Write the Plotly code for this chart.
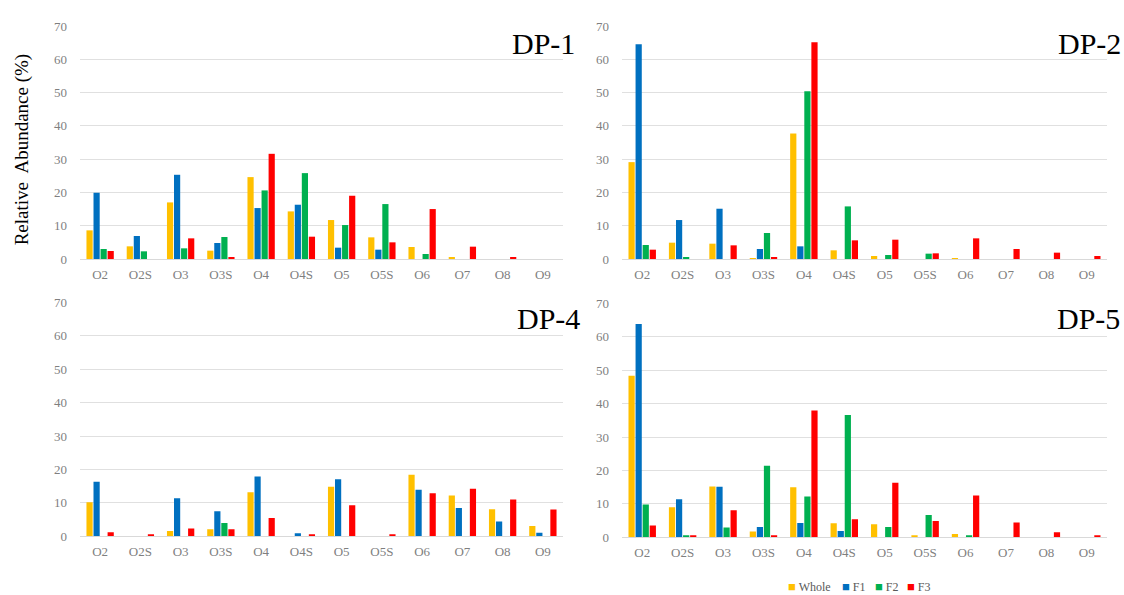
import plotly.graph_objects as go

categories = ["O2", "O2S", "O3", "O3S", "O4", "O4S", "O5", "O5S", "O6", "O7", "O8", "O9"]
series_names = ["Whole", "F1", "F2", "F3"]
series_colors = ["#FFC000", "#0070C0", "#00B050", "#FF0000"]

# Relative abundance (%) per sample, one list per fraction
dp1_whole = [8.6, 3.8, 17.0, 2.5, 24.6, 14.3, 11.7, 6.5, 3.6, 0.4, 0.0, 0.0]
dp1_f1 = [19.9, 6.9, 25.3, 4.8, 15.3, 16.3, 3.4, 2.8, 0.0, 0.0, 0.0, 0.0]
dp1_f2 = [3.0, 2.3, 3.2, 6.6, 20.6, 25.8, 10.2, 16.5, 1.5, 0.0, 0.0, 0.0]
dp1_f3 = [2.4, 0.0, 6.2, 0.5, 31.6, 6.7, 19.0, 5.0, 15.0, 3.7, 0.5, 0.0]

dp2_whole = [29.1, 4.9, 4.6, 0.2, 37.7, 2.6, 0.9, 0.0, 0.2, 0.0, 0.0, 0.0]
dp2_f1 = [64.5, 11.7, 15.1, 3.0, 3.8, 0.0, 0.0, 0.0, 0.0, 0.0, 0.0, 0.0]
dp2_f2 = [4.2, 0.5, 0.0, 7.8, 50.4, 15.8, 1.2, 1.6, 0.0, 0.0, 0.0, 0.0]
dp2_f3 = [2.8, 0.0, 4.1, 0.6, 65.1, 5.6, 5.8, 1.7, 6.2, 3.0, 1.9, 0.9]

dp4_whole = [10.2, 0.0, 1.6, 2.1, 13.2, 0.0, 14.8, 0.0, 18.4, 12.2, 8.1, 3.1]
dp4_f1 = [16.3, 0.0, 11.4, 7.5, 17.9, 0.9, 17.1, 0.0, 13.9, 8.5, 4.4, 1.1]
dp4_f2 = [0.0, 0.0, 0.0, 4.0, 0.0, 0.0, 0.0, 0.0, 0.0, 0.0, 0.0, 0.0]
dp4_f3 = [1.2, 0.5, 2.3, 2.1, 5.5, 0.5, 9.3, 0.5, 12.9, 14.2, 11.0, 8.0]

dp5_whole = [48.3, 9.0, 15.2, 1.7, 15.0, 4.2, 3.9, 0.5, 1.0, 0.0, 0.0, 0.0]
dp5_f1 = [63.8, 11.4, 15.1, 3.1, 4.3, 1.9, 0.0, 0.0, 0.0, 0.0, 0.0, 0.0]
dp5_f2 = [9.8, 0.3, 2.9, 21.4, 12.2, 36.6, 3.1, 6.7, 0.3, 0.0, 0.0, 0.0]
dp5_f3 = [3.5, 0.3, 8.1, 0.6, 37.9, 5.4, 16.3, 4.9, 12.5, 4.4, 1.5, 0.5]

panels = [
    ("DP-1", [dp1_whole, dp1_f1, dp1_f2, dp1_f3]),
    ("DP-2", [dp2_whole, dp2_f1, dp2_f2, dp2_f3]),
    ("DP-4", [dp4_whole, dp4_f1, dp4_f2, dp4_f3]),
    ("DP-5", [dp5_whole, dp5_f1, dp5_f2, dp5_f3]),
]

W, H = 1124, 595
# plot-area boxes in pixels: (left, right, top, bottom)
boxes = [
    (80, 563, 19.5, 258.5),
    (622, 1107, 19.5, 258.5),
    (80, 563, 303, 543),
    (622, 1107, 304, 544),
]
title_pos = [(577, 37), (1123, 37), (582, 320), (1122, 320)]
legend_x = [786, 840, 873, 905]

SERIF = "Liberation Serif"
TICK_COLOR = "#7F7F7F"
GRID = "#E0E0E0"

fig = go.Figure()
layout = dict(
    width=W, height=H,
    margin=dict(l=0, r=0, t=0, b=0),
    paper_bgcolor="white", plot_bgcolor="white",
    barmode="group", bargap=0.3, bargroupgap=0.12,
    showlegend=False,
)

annotations = []
for i, ((name, vals), (l, r, t, b)) in enumerate(zip(panels, boxes)):
    ax = "" if i == 0 else str(i + 1)
    xa, ya = "x" + ax, "y" + ax
    for sname, col, v in zip(series_names, series_colors, vals):
        fig.add_trace(go.Bar(
            x=categories, y=v, name=sname, xaxis=xa, yaxis=ya,
            marker=dict(color=col, line=dict(width=0)),
        ))
    layout["xaxis" + ax] = dict(
        domain=[l / W, r / W], anchor=ya,
        tickfont=dict(family=SERIF, size=13, color=TICK_COLOR),
        showgrid=False, showline=True, linecolor="#D9D9D9", linewidth=1,
        ticks="", ticklabelstandoff=3, fixedrange=True,
    )
    layout["yaxis" + ax] = dict(
        domain=[1 - b / H, 1 - t / H], anchor=xa, range=[0, 70],
        tickvals=[0, 10, 20, 30, 40, 50, 60, 70],
        tickfont=dict(family=SERIF, size=13, color=TICK_COLOR),
        showgrid=True, gridcolor=GRID, gridwidth=1, zeroline=False,
        showline=False, ticks="", ticklabelstandoff=12, fixedrange=True,
    )
    tx, ty = title_pos[i]
    annotations.append(dict(
        text=name, x=tx / W, y=1 - ty / H, xref="paper", yref="paper",
        xanchor="right", yanchor="middle", showarrow=False,
        font=dict(family=SERIF, size=30, color="black"),
    ))

annotations.append(dict(
    text="Relative  Abundance (%)", x=22 / W, y=1 - 146 / H,
    xref="paper", yref="paper", textangle=-90, showarrow=False,
    xanchor="center", yanchor="middle",
    font=dict(family=SERIF, size=19, color="black"),
))

# legend row under the lower-right panel
for lx, n, c in zip(legend_x, series_names, series_colors):
    annotations.append(dict(
        text=f"<span style='color:{c};font-size:13px'>■</span> {n}",
        x=lx / W, y=1 - 594 / H, xref="paper", yref="paper",
        xanchor="left", yanchor="middle", showarrow=False,
        font=dict(family=SERIF, size=12, color="#595959"),
    ))
layout["annotations"] = annotations
fig.update_layout(**layout)

fig.write_html("out.html")
